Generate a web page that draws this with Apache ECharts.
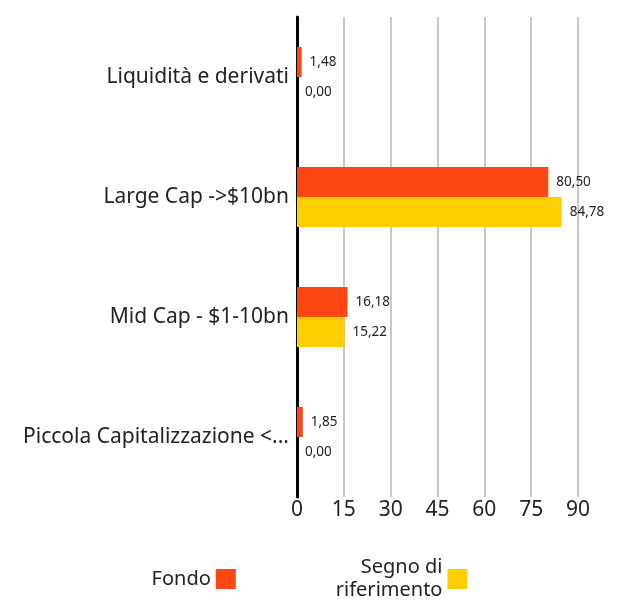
<!DOCTYPE html>
<html>
<head>
<meta charset="utf-8">
<script src="https://cdn.jsdelivr.net/npm/echarts@6/dist/echarts.min.js"></script>
<style>
  html, body { margin: 0; padding: 0; background: #fff; }
  #chart { width: 619px; height: 603px; }
</style>
</head>
<body>
<div id="chart"></div>
<script>
const categories = ['Liquidità e derivati', 'Large Cap ->$10bn', 'Mid Cap - $1-10bn', 'Piccola Capitalizzazione <$1bn'];
const fondo = [1.48, 80.50, 16.18, 1.85];
const benchmark = [0.00, 84.78, 15.22, 0.00];
const xTicks = [0, 15, 30, 45, 60, 75, 90];

const fmt = (v) => v.toFixed(2).replace('.', ',');
const font = 'Noto Sans';

const chart = echarts.init(document.getElementById('chart'));

chart.setOption({
  textStyle: { fontFamily: font },
  legend: {
    top: 551,
    left: 'center',
    align: 'right',
    itemWidth: 20,
    itemHeight: 20,
    itemGap: 100,
    icon: 'rect',
    textStyle: { fontFamily: font, fontSize: 20, color: '#222', lineHeight: 23, align: 'right' },
    data: ['Fondo', 'Segno di\nriferimento']
  },
  grid: { left: 297, right: 41, top: 17, bottom: 106 },
  xAxis: {
    type: 'value',
    min: xTicks[0],
    max: xTicks[xTicks.length - 1],
    interval: 15,
    axisLine: { show: false },
    axisTick: { show: false },
    splitLine: { lineStyle: { color: '#c8c8c8', width: 2 } },
    axisLabel: { fontFamily: font, fontSize: 21, color: '#222', margin: 3 }
  },
  yAxis: {
    type: 'category',
    data: categories,
    inverse: true,
    axisLine: { lineStyle: { color: '#000', width: 3 } },
    axisTick: { show: false },
    axisLabel: {
      fontFamily: font,
      fontSize: 21,
      color: '#222',
      margin: 8,
      width: 274,
      overflow: 'truncate',
      ellipsis: '...'
    }
  },
  series: [
    {
      name: 'Fondo',
      type: 'bar',
      data: fondo,
      barWidth: 30,
      barGap: '0%',
      itemStyle: { color: '#fc4714' },
      label: { show: true, position: 'right', distance: 8, fontFamily: font, fontSize: 13.5, color: '#222', formatter: (p) => fmt(p.value) }
    },
    {
      name: 'Segno di\nriferimento',
      type: 'bar',
      data: benchmark,
      barWidth: 30,
      itemStyle: { color: '#ffce00' },
      label: { show: true, position: 'right', distance: 8, fontFamily: font, fontSize: 13.5, color: '#222', formatter: (p) => fmt(p.value) }
    }
  ]
});
</script>
</body>
</html>
